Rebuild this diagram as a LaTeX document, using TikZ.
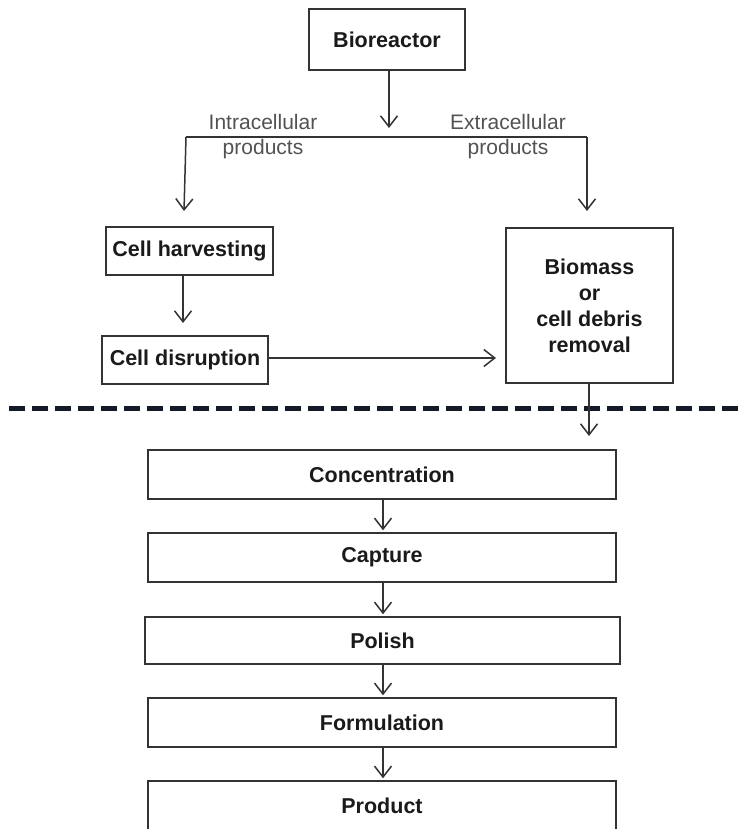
\documentclass[tikz,border=0pt]{standalone}
\usepackage{fontspec}
\setmainfont{Liberation Sans}
\usetikzlibrary{arrows.meta}
\definecolor{linec}{HTML}{333333}
\definecolor{textc}{HTML}{1A1A1A}
\definecolor{dashc}{HTML}{141A28}
\begin{document}
\begin{tikzpicture}[x=1pt,y=-1pt,
  box/.style={draw=linec,line width=1.4pt,text=textc,font=\fontsize{21.5}{26}\selectfont\bfseries,align=center,inner sep=0pt},
  lbl/.style={text=linec!85!white,font=\fontsize{21}{25}\selectfont,align=center,inner sep=0pt},
  conn/.style={draw=linec,line width=1.5pt},
  arr/.style={conn,-{Straight Barb[length=11pt,width=17pt,line width=1.5pt]}}]
\useasboundingbox (0,0) rectangle (743,829);
\begin{scope}
\clip (0,0) rectangle (743,829);
\node[box,minimum width=156pt,minimum height=61pt] (bio) at (387,39.5) {Bioreactor};
\node[box,minimum width=167pt,minimum height=48pt] (harv) at (189.5,251) {Cell harvesting};
\node[box,minimum width=166pt,minimum height=48pt] (disr) at (185,360) {Cell disruption};
\node[box,minimum width=167pt,minimum height=155pt] (biom) at (589.5,305.5) {Biomass\\or\\cell debris\\removal};
\node[box,minimum width=468pt,minimum height=49pt] (conc) at (382,474.5) {Concentration};
\node[box,minimum width=468pt,minimum height=49pt] (capt) at (382,557.5) {Capture};
\node[box,minimum width=475pt,minimum height=47pt] (pol) at (382.5,640.5) {Polish};
\node[box,minimum width=468pt,minimum height=49pt] (form) at (382,722.5) {Formulation};
\node[box,minimum width=468pt,minimum height=49pt] (prod) at (382,805.5) {Product};

\node[lbl] (intra) at (263,137) {Intracellular\\products};
\node[lbl] (extra) at (508,137) {Extracellular\\products};

\coordinate (bioend) at (389,128);
\coordinate (jl) at (186,137);
\coordinate (jr) at (587,137);
\coordinate (tl) at (184,211);
\coordinate (tr) at (587,211);
\coordinate (hend) at (183,323);
\coordinate (dend) at (496,358);
\coordinate (bend) at (589,436);
\coordinate (dl) at (9,408);
\coordinate (dr) at (743,408);

\draw[arr] (bio.south -| bioend) -- (bioend);
\draw[conn] (jl) -- (jr);
\draw[arr] (jl) -- (tl);
\draw[arr] (jr) -- (tr);
\draw[arr] (harv.south -| hend) -- (hend);
\draw[arr] (disr.east |- dend) -- (dend);
\draw[dashc,line width=5pt,dash pattern=on 16pt off 7pt] (dl) -- (dr);
\draw[arr] (biom.south -| bend) -- (bend);
\draw[arr,shorten >=2pt] (conc.south -| 383,0) -- (capt.north -| 383,0);
\draw[arr,shorten >=2pt] (capt.south -| 383,0) -- (pol.north -| 383,0);
\draw[arr,shorten >=2pt] (pol.south -| 383,0) -- (form.north -| 383,0);
\draw[arr,shorten >=2pt] (form.south -| 383,0) -- (prod.north -| 383,0);
\end{scope}
\end{tikzpicture}
\end{document}
